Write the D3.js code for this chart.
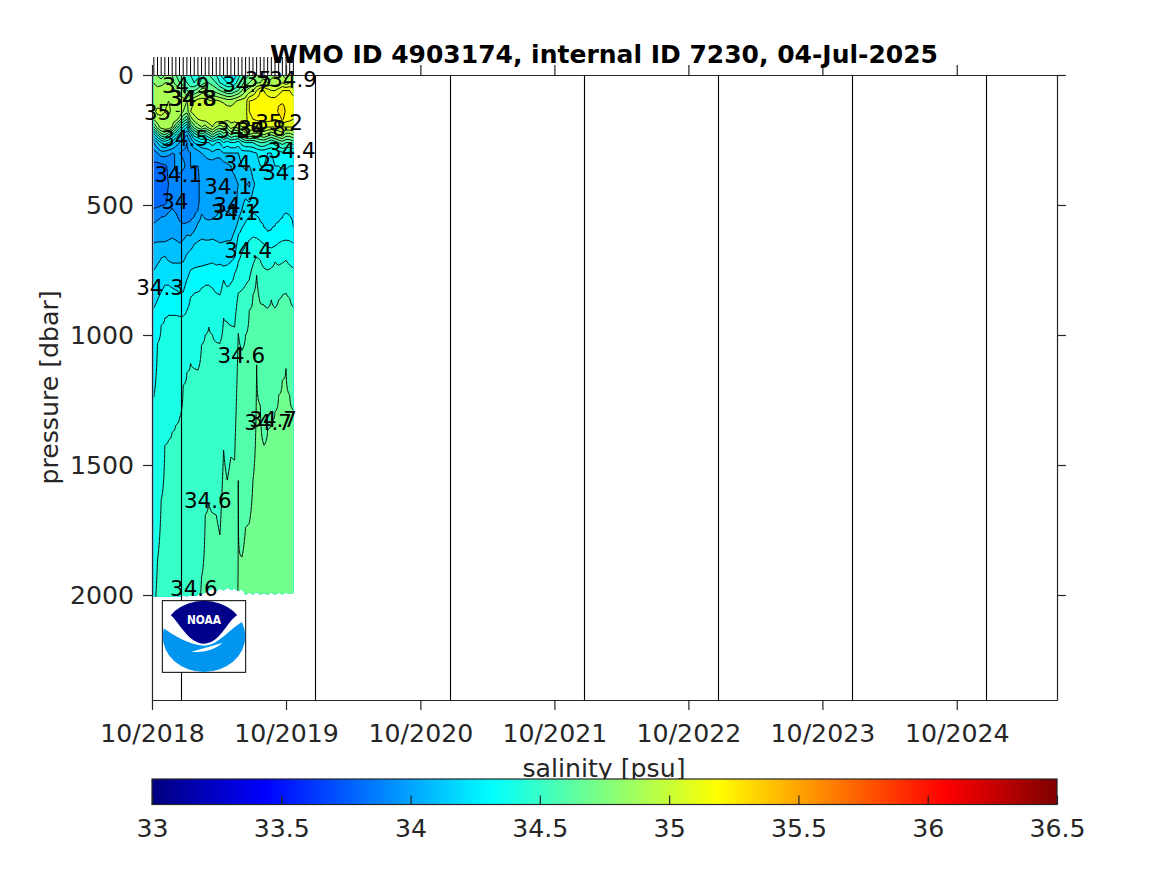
<!DOCTYPE html>
<html><head><meta charset="utf-8">
<script src="https://cdn.jsdelivr.net/npm/d3@7/dist/d3.min.js"></script>
<style>html,body{margin:0;background:#fff}svg{display:block}text{font-family:"DejaVu Sans",sans-serif}</style>
</head><body><svg id="c" width="1167" height="875"></svg>
<script>
// ---------- data ----------
const titleText = "WMO ID 4903174, internal ID 7230, 04-Jul-2025";
const axisStart = "2018-10-12", axisEnd = "2025-07-12";
const xTickDates = ["2018-10-12","2019-10-12","2020-10-12","2021-10-12","2022-10-12","2023-10-12","2024-10-12"];
const yearLineDates = ["2019-01-01","2020-01-01","2021-01-01","2022-01-01","2023-01-01","2024-01-01","2025-01-01"];
const yTicks = [0,500,1000,1500,2000];
const cbTicks = [33,33.5,34,34.5,35,35.5,36,36.5];
const profileDays = [5,15,25,35,45,55,65,75,85,95,105,115,125,135,145,155,165,175,185,195,205,215,225,235,245,255,265,275,285,295,305,315,325,335,345,355,365,375,385];
const upperLevels = [0,30,60,100,140,170,200,230,260,300,350,420,490];
const upper0=[34.85,34.8,34.75,34.8,34.85,34.8,34.7,34.65,34.6,34.55,34.5,34.45,34.45,34.55,34.6,34.6,34.55,34.5,34.4,34.35,34.3,34.3,34.35,34.45,34.55,34.65,34.7,34.75,34.8,34.85,34.85,34.8,34.85,34.9,34.85,34.9,34.85,34.9,34.9];
const upper1=[34.9,34.85,34.85,34.9,34.9,34.85,34.75,34.7,34.65,34.6,34.55,34.5,34.55,34.65,34.7,34.7,34.65,34.6,34.5,34.45,34.4,34.4,34.45,34.55,34.65,34.75,34.8,34.85,34.9,34.9,34.95,34.9,34.95,34.95,34.95,35.0,34.95,35.0,35.0];
const upper2=[34.95,34.95,34.98,34.98,34.95,34.95,34.9,34.85,34.8,34.7,34.65,34.7,34.75,34.85,34.85,34.8,34.8,34.75,34.7,34.65,34.6,34.6,34.65,34.7,34.8,34.9,34.95,35.0,35.1,35.2,35.2,35.15,35.1,35.1,35.15,35.2,35.2,35.2,35.15];
const upper3=[34.98,34.96,34.93,34.98,35.0,34.98,34.97,34.95,34.95,34.9,34.95,35.0,35.05,35.05,35.05,35.02,35.0,35.02,35.0,34.98,34.95,34.95,34.98,35.02,35.04,35.05,35.2,35.22,35.24,35.25,35.25,35.25,35.25,35.25,35.28,35.28,35.28,35.27,35.25];
const upper4=[34.98,35.02,35.02,35.0,35.02,34.98,35.0,35.0,34.9,34.85,35.0,35.05,35.08,35.08,35.08,35.08,35.08,35.08,35.07,35.08,35.06,35.05,35.08,35.08,35.06,35.06,35.2,35.22,35.25,35.26,35.26,35.26,35.26,35.25,35.32,35.36,35.28,35.26,35.25];
const upper5=[34.92,34.97,34.98,34.98,34.98,34.96,34.95,34.85,34.7,34.6,34.85,34.95,35.0,35.02,35.05,35.06,35.07,35.06,35.06,35.04,35.03,35.05,35.05,35.07,35.05,35.05,35.18,35.2,35.22,35.24,35.24,35.24,35.23,35.22,35.24,35.32,35.25,35.23,35.2];
const upper6=[34.7,34.85,34.95,34.98,35.0,34.9,34.7,34.55,34.4,34.3,34.6,34.75,34.85,34.9,34.85,34.95,35.0,34.9,34.85,34.9,34.85,34.95,34.9,34.95,35.0,35.05,35.08,35.08,35.1,35.1,35.12,35.1,35.1,35.1,35.1,35.1,35.1,35.1,35.1];
const upper7=[34.35,34.5,34.65,34.7,34.6,34.5,34.4,34.25,34.15,34.1,34.25,34.45,34.5,34.55,34.5,34.6,34.7,34.6,34.55,34.65,34.6,34.7,34.65,34.65,34.75,34.85,34.9,34.85,34.85,34.85,34.9,34.85,34.8,34.85,34.9,34.95,34.85,34.85,34.9];
const upper8=[34.1,34.2,34.3,34.35,34.3,34.25,34.15,34.1,34.05,34.0,34.1,34.2,34.25,34.3,34.3,34.3,34.35,34.3,34.3,34.4,34.35,34.4,34.4,34.35,34.45,34.5,34.5,34.5,34.55,34.6,34.6,34.55,34.5,34.55,34.6,34.65,34.6,34.6,34.65];
const upper9=[33.95,34.0,34.05,34.05,34.02,34.0,34.0,34.0,33.98,33.98,34.0,34.02,34.05,34.1,34.12,34.15,34.18,34.15,34.15,34.2,34.2,34.2,34.2,34.2,34.25,34.25,34.25,34.28,34.3,34.32,34.32,34.3,34.3,34.32,34.35,34.38,34.4,34.38,34.38];
const upper10=[33.88,33.86,33.87,33.88,33.92,33.96,34.02,34.05,34.02,33.98,34.0,34.0,34.0,34.03,34.05,34.05,34.03,34.02,34.02,34.05,34.08,34.1,34.12,34.15,34.2,34.22,34.2,34.25,34.28,34.3,34.3,34.28,34.28,34.3,34.3,34.31,34.31,34.3,34.3];
const upper11=[33.83,33.83,33.85,33.87,33.9,33.93,33.95,33.93,33.92,33.92,33.93,33.95,33.97,34.06,34.06,34.07,34.07,34.08,34.08,34.09,34.1,34.08,34.08,34.1,34.12,34.12,34.08,34.18,34.22,34.25,34.25,34.25,34.25,34.25,34.25,34.25,34.25,34.25,34.25];
const upper12=[33.86,33.86,33.87,33.88,33.92,33.96,33.95,33.93,33.93,33.93,33.94,33.96,33.98,34.04,34.04,34.04,34.05,34.05,34.05,34.05,34.06,34.06,34.07,34.12,34.18,34.22,34.2,34.24,34.26,34.27,34.27,34.27,34.27,34.27,34.27,34.28,34.28,34.28,34.27];
const upperRows=[upper0,upper1,upper2,upper3,upper4,upper5,upper6,upper7,upper8,upper9,upper10,upper11,upper12];
const n=null;
// pressure (dbar) of each deep isohaline, per profile
const iso340=[569,558,546,542,527,511,531,562,573,569,562,546,523,n,n,n,n,n,n,n,n,n,n,n,n,n,n,n,n,n,n,n,n,n,n,n,n,n,n];
const iso341=[646,642,642,642,635,627,635,646,635,615,619,600,570,535,554,558,554,542,523,519,527,535,555,n,n,n,n,n,n,n,n,n,n,n,n,n,n,n,n];
const iso342=[750,727,704,696,715,723,723,723,719,688,673,650,640,631,635,635,631,638,646,642,638,638,600,558,519,n,n,n,n,n,n,n,n,n,n,n,n,n,n];
const iso343=[896,865,835,808,808,819,827,838,835,788,750,742,738,735,731,727,723,731,727,735,731,719,704,615,588,565,546,531,542,565,588,604,596,581,565,550,531,542,585];
const iso344=[1238,1031,962,935,923,923,923,927,927,904,854,838,835,819,808,808,819,838,846,788,815,800,762,719,681,654,635,623,627,638,650,662,665,658,646,638,635,638,646];
const iso345=[n,1865,1635,1423,1404,1373,1346,1319,1192,1142,1108,1127,1135,1038,1000,969,1000,1027,1031,935,950,962,969,838,827,808,788,731,700,712,742,750,742,719,731,723,712,731,742];
const iso346=[n,n,n,n,n,n,n,n,n,n,n,n,n,1931,1692,1646,1685,1692,1769,1442,1558,1469,1481,992,1058,1000,904,846,769,877,885,896,865,896,865,846,838,858,892];
const iso347=[n,n,n,n,n,n,n,n,n,n,n,n,n,n,n,n,n,n,n,n,n,n,n,1558,1854,1738,1723,1558,1115,1269,1423,1365,1335,1296,1231,1173,1127,1231,1288];
const isoValues=[34.0,34.1,34.2,34.3,34.4,34.5,34.6,34.7];
const isoRows=[iso340,iso341,iso342,iso343,iso344,iso345,iso346,iso347];
const bottomSalinity=[34.49,34.51,34.52,34.525,34.53,34.535,34.54,34.545,34.55,34.555,34.56,34.57,34.59,34.605,34.61,34.62,34.63,34.64,34.65,34.66,34.67,34.68,34.69,34.702,34.72,34.72,34.72,34.725,34.73,34.73,34.73,34.73,34.735,34.735,34.74,34.74,34.74,34.74,34.74];
const maxPressure=[2005,2008,2006,2008,2005,2007,2004,2006,2003,2005,2002,2004,2000,1995,1990,1982,1975,1985,1975,1982,1972,1980,1975,1985,1978,1998,1990,1998,1988,1998,1992,1998,1990,1998,1990,1998,1990,1996,1992];
const contourLevels=[33.8,33.9,34.0,34.1,34.2,34.3,34.4,34.5,34.6,34.7,34.8,34.9,35.0,35.1,35.2,35.3];
// clabel text with [day since axis start, pressure]
const clabelText=["34.9","34.8","34.8","34.7","35","34.9","35","35.2","34.9","35","34.8","34.5","34.2","34.4","34.3","34.1","34.1","34","34.2","34.1","34.4","34.3","34.6","34.7","34.7","34.6","34.6"];
const clabelDay=[92,109,112,256,290,384,15,346,240,267,300,90,260,381,365,71,207,62,232,225,262,22,243,330,316,152,114];
const clabelP=[38,88,90,35,18,15,142,181,212,212,205,245,338,288,373,381,427,485,500,527,673,815,1077,1323,1335,1635,1973];

// ---------- geometry ----------
const W=1167,H=875,L=152,R=1057,T=75,B=700;
const svg=d3.select("#c");
const parse=d3.utcParse("%Y-%m-%d");
const x=d3.scaleUtc().domain([parse(axisStart),parse(axisEnd)]).range([L,R]);
const y=d3.scaleLinear().domain([0,2403.8]).range([T,B]);
const start=parse(axisStart);
const dayX=d=>x(new Date(+start+d*864e5));
const dayOfCol=d3.scaleLinear().domain(d3.range(profileDays.length)).range(profileDays);
const jet=t=>{const c=v=>Math.round(255*Math.max(0,Math.min(1,v)));
  return `rgb(${c(Math.min(4*t-1.5,-4*t+4.5))},${c(Math.min(4*t-.5,-4*t+3.5))},${c(Math.min(4*t+.5,-4*t+2.5))})`;};
const cbScale=d3.scaleLinear().domain([33,36.5]).range([L,R]);
const col=v=>jet((v-33)/3.5);

// ---------- contour grid built from the read profile knots ----------
const step=5,rows=d3.range(0,2016,step);
const grid=new Array(rows.length*profileDays.length);
profileDays.forEach((_,c)=>{
  const k=upperLevels.map((p,i)=>[p,upperRows[i][c]]);
  isoRows.forEach((r,i)=>{if(r[c]!==null)k.push([r[c],isoValues[i]]);});
  k.push([2015,bottomSalinity[c]]);
  k.sort((a,b)=>a[0]-b[0]);
  const f=d3.scaleLinear().domain(k.map(d=>d[0])).range(k.map(d=>d[1]));
  rows.forEach((p,r)=>{grid[r*profileDays.length+c]=f(p);});
});
const contours=d3.contours().size([profileDays.length,rows.length]).thresholds(contourLevels)(grid);
const path=d3.geoPath(d3.geoTransform({point(cx,ry){
  this.stream.point(dayX(dayOfCol(cx-.5)),y((ry-.5)*step));}}));

const defs=svg.append("defs");
const area=d3.area().x((d,i)=>dayX(profileDays[i])).y0(y(0)).y1(d=>y(d));
defs.append("clipPath").attr("id","dataClip").append("path").attr("d",area(maxPressure));
const grad=defs.append("linearGradient").attr("id","jet");
d3.range(0,1.0001,1/128).forEach(t=>grad.append("stop").attr("offset",t).attr("stop-color",jet(t)));

// ---------- filled contours and lines ----------
const gData=svg.append("g").attr("clip-path","url(#dataClip)");
gData.append("rect").attr("x",L).attr("y",T).attr("width",R-L).attr("height",B-T).attr("fill",col(33.7));
gData.selectAll("path.f").data(contours).join("path").attr("class","f").attr("d",path).attr("fill",d=>col(d.value)).attr("stroke","none");
gData.selectAll("path.l").data(contours).join("path").attr("class","l").attr("d",path).attr("fill","none").attr("stroke","#000").attr("stroke-width",.95);

// ---------- year lines and profile ticks ----------
const snap=v=>Math.round(v-.5)+.5;
svg.append("g").selectAll("line").data(yearLineDates).join("line")
  .attr("x1",d=>snap(x(parse(d)))).attr("x2",d=>snap(x(parse(d)))).attr("y1",T).attr("y2",B).attr("stroke","#000").attr("stroke-width",1.1);
svg.append("g").selectAll("line").data(profileDays).join("line")
  .attr("x1",dayX).attr("x2",dayX).attr("y1",T-18).attr("y2",T).attr("stroke","#000").attr("stroke-width",1);

// ---------- axes ----------
const fs=25.2,ink="#262626";
function style(g){g.selectAll("text").attr("font-size",fs).attr("fill",ink).attr("font-family",'"DejaVu Sans"');
  g.selectAll("path,line").attr("stroke",ink).attr("stroke-width",1.2);}
const dates=xTickDates.map(parse),fmt=d3.utcFormat("%m/%Y");
svg.append("g").attr("transform",`translate(0,${B})`).call(d3.axisBottom(x).tickValues(dates).tickFormat(fmt).tickSize(10).tickSizeOuter(0).tickPadding(14)).call(style);
svg.append("g").attr("transform",`translate(0,${T})`).call(d3.axisTop(x).tickValues(dates).tickFormat("").tickSize(10).tickSizeOuter(0)).call(style);
svg.append("g").attr("transform",`translate(${L},0)`).call(d3.axisLeft(y).tickValues(yTicks).tickFormat(d3.format("d")).tickSize(9).tickSizeOuter(0).tickPadding(9)).call(style);
svg.append("g").attr("transform",`translate(${R},0)`).call(d3.axisRight(y).tickValues(yTicks).tickFormat("").tickSize(9).tickSizeOuter(0)).call(style);

// ---------- contour labels ----------
svg.append("g").selectAll("text").data(clabelText).join("text")
  .attr("x",(d,i)=>dayX(clabelDay[i])).attr("y",(d,i)=>y(clabelP[i])).attr("dy","0.36em").attr("text-anchor","middle")
  .attr("font-size",21.4).attr("fill","#000").text(d=>d);

// ---------- titles ----------
svg.append("text").attr("x",604).attr("y",63).attr("text-anchor","middle").attr("font-size",25).attr("font-weight","bold").attr("fill","#000").text(titleText);
svg.append("text").attr("transform","translate(58,387.5) rotate(-90)").attr("text-anchor","middle").attr("font-size",fs).attr("fill",ink).text("pressure [dbar]");
svg.append("text").attr("x",604).attr("y",777).attr("text-anchor","middle").attr("font-size",fs).attr("fill",ink).text("salinity [psu]");

// ---------- colourbar ----------
svg.append("rect").attr("x",L).attr("y",779).attr("width",R-L).attr("height",25.5).attr("fill","url(#jet)").attr("stroke",ink).attr("stroke-width",1.2);
const cb=svg.append("g").attr("transform","translate(0,804.5)").call(d3.axisBottom(cbScale).tickValues(cbTicks).tickFormat(d3.format("")).tickSize(-9).tickSizeOuter(0)).call(style);
cb.select("path").attr("stroke","none");
cb.selectAll("text").attr("y",15);

// ---------- NOAA logo ----------
const logo=svg.append("g").attr("transform","translate(130,480) scale(0.33333)");
logo.append("rect").attr("x",97).attr("y",362).attr("width",250).attr("height",215).attr("fill","#fff").attr("stroke","#000").attr("stroke-width",3);
defs.append("clipPath").attr("id","logoClip").append("ellipse").attr("cx",222).attr("cy",469).attr("rx",124).attr("ry",107);
const lg=logo.append("g").attr("clip-path","url(#logoClip)");
lg.append("path").attr("fill","#0095ee").attr("d","M90 438 C130 465 175 495 222 497 C270 495 295 445 350 418 L350 580 L90 580 Z");
lg.append("path").attr("fill","#00008b").attr("d","M122 405 L122 350 L322 350 L322 405 C290 425 270 490 222 491 C175 490 150 430 122 405 Z");
lg.append("path").attr("fill","#fff").attr("d","M183 516 C215 505 250 497 278 488 C262 503 235 515 200 516 Z");
logo.append("text").attr("x",222).attr("y",432).attr("text-anchor","middle").attr("font-size",38).attr("font-weight","bold").attr("fill","#fff").attr("textLength",102).attr("lengthAdjust","spacingAndGlyphs").text("NOAA");
</script></body></html>
